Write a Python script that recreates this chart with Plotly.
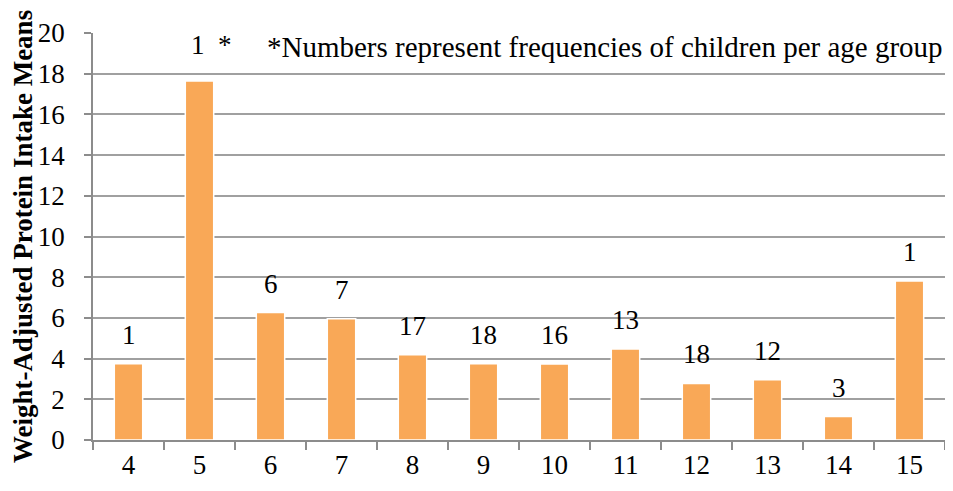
import plotly.graph_objects as go

ages = ["4", "5", "6", "7", "8", "9", "10", "11", "12", "13", "14", "15"]
means = [3.75, 17.64, 6.26, 5.96, 4.19, 3.75, 3.73, 4.47, 2.78, 2.96, 1.15, 7.81]
freq_labels = ["1", "1 *", "6", "7", "17", "18", "16", "13", "18", "12", "3", "1"]
note_text = "*Numbers represent frequencies of children per age group"
y_title = "Weight-Adjusted Protein Intake Means"
y_ticks = [0, 2, 4, 6, 8, 10, 12, 14, 16, 18, 20]

FONT = "Liberation Serif, Times New Roman, serif"

fig = go.Figure()
fig.add_trace(go.Bar(
    x=ages, y=means,
    marker=dict(color="#F9A857", line=dict(color="white", width=1.5)),
    showlegend=False, hoverinfo="x+y",
))

for i, (m, lab) in enumerate(zip(means, freq_labels)):
    star = lab.endswith("*")
    fig.add_annotation(x=i, y=m, text=lab.replace(" ", "&nbsp;&nbsp;") if star else lab,
                       showarrow=False,
                       yshift=36 if star else 29,
                       xshift=12 if star else 0,
                       font=dict(family=FONT, size=27, color="black"))

fig.add_annotation(xref="paper", yref="paper", x=1.0, y=0.965, xanchor="right", yanchor="middle",
                   text=note_text, showarrow=False,
                   font=dict(family=FONT, size=29, color="black"))

fig.update_layout(
    width=945, height=483,
    margin=dict(l=85, r=8, t=25, b=51),
    plot_bgcolor="white", paper_bgcolor="white",
    bargap=0.6,
    font=dict(family=FONT, size=27, color="black"),
    xaxis=dict(type="category", showgrid=False, showline=True, linecolor="#8c8c8c", linewidth=1.5,
               ticks="outside", tickson="boundaries", ticklen=8, tickcolor="#8c8c8c", tickwidth=1.5,
               tickfont=dict(family=FONT, size=27), fixedrange=True, automargin=False),
    yaxis=dict(range=[0, 20], tickvals=y_ticks, showgrid=True, gridcolor="#a0a0a0", gridwidth=1.5,
               showline=True, linecolor="#8c8c8c", linewidth=1.5, ticks="outside", ticklen=7,
               tickcolor="#8c8c8c", tickwidth=1.5, zeroline=False, automargin=False,
               ticklabelstandoff=14,
               tickfont=dict(family=FONT, size=27),
               title=dict(text="<b>" + y_title + "</b>", font=dict(family=FONT, size=27), standoff=8)),
)

fig.write_html("out.html")
